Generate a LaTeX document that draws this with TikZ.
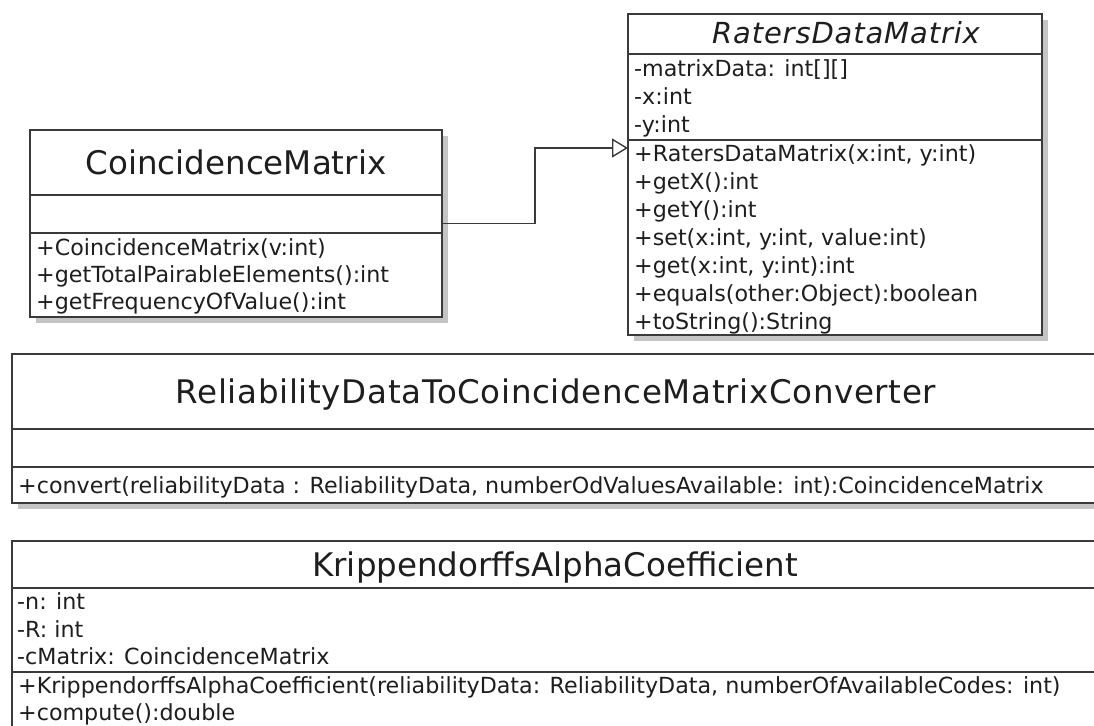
\documentclass[tikz,border=0pt]{standalone}
\usepackage{fontspec}
\setmainfont{DejaVu Sans}
\usetikzlibrary{arrows.meta}

\definecolor{umlline}{HTML}{3A3A3A}
\definecolor{umlshadow}{HTML}{C4C4C4}
\definecolor{umltext}{HTML}{1E1E1E}

\begin{document}
\begin{tikzpicture}[x=1pt, y=-1pt,
  classbox/.style={draw=umlline, line width=1.4pt, fill=white, inner sep=0pt,
                   outer sep=0pt, anchor=north west},
  shadowbox/.style={fill=umlshadow, draw=none},
  divider/.style={draw=umlline, line width=1.4pt},
  member/.style={inner sep=0pt, anchor=base west, text=umltext,
                 font=\fontsize{22.2}{27}\selectfont},
  classname/.style={inner sep=0pt, anchor=base, text=umltext,
                    font=\fontsize{32.5}{39}\selectfont},
  widename/.style={classname, font=\fontsize{32.5}{39}\selectfont\addfontfeature{LetterSpace=2}},
  abstractname/.style={classname, font=\itshape\fontsize{29}{35}\selectfont\addfontfeature{LetterSpace=3}},
  realize/.style={draw=umlline, line width=1.4pt,
                  -{Triangle[open, length=16pt, width=19pt, line width=1.4pt]}}
]
\clip (0,0) rectangle (1094,725);
\fill[white] (0,0) rectangle (1094,725);

% drop shadows
\fill[shadowbox] (36,136) rectangle (448,323);
\fill[shadowbox] (634,20) rectangle (1048,341);
\fill[shadowbox] (18,360) rectangle (1104,509);

% ---------- CoincidenceMatrix ----------
\node[classbox, minimum width=412pt, minimum height=187pt] (cm) at (30,130) {};
\draw[divider] (30,195) -- (442,195);
\draw[divider] (30,233) -- (442,233);
\node[classname] (cm-name) at (236,174) {CoincidenceMatrix};
\node[member] (cm-m1) at (36,255) {+CoincidenceMatrix(v:int)};
\node[member] (cm-m2) at (36,282) {+getTotalPairableElements():int};
\node[member] (cm-m3) at (36,309) {+getFrequencyOfValue():int};

% ---------- RatersDataMatrix (abstract) ----------
\node[classbox, minimum width=414pt, minimum height=321pt] (rdm) at (628,14) {};
\draw[divider] (628,54) -- (1042,54);
\draw[divider] (628,140) -- (1042,140);
\node[abstractname] (rdm-name) at (846,44) {RatersDataMatrix};
\node[member] (rdm-a1) at (634,76) {-matrixData: int[][]};
\node[member] (rdm-a2) at (634,104) {-x:int};
\node[member] (rdm-a3) at (634,132) {-y:int};
\node[member] (rdm-m1) at (634,161) {+RatersDataMatrix(x:int, y:int)};
\node[member] (rdm-m2) at (634,189) {+getX():int};
\node[member] (rdm-m3) at (634,217) {+getY():int};
\node[member] (rdm-m4) at (634,245) {+set(x:int, y:int, value:int)};
\node[member] (rdm-m5) at (634,273) {+get(x:int, y:int):int};
\node[member] (rdm-m6) at (634,301) {+equals(other:Object):boolean};
\node[member] (rdm-m7) at (634,329) {+toString():String};

% realization: CoincidenceMatrix -> RatersDataMatrix
\coordinate (rdm-in) at ([yshift=-134pt]rdm.north west);
\draw[realize] (cm.east) -- ++(93,0) |- (rdm-in);

% ---------- ReliabilityDataToCoincidenceMatrixConverter ----------
\node[classbox, minimum width=1086pt, minimum height=149pt] (conv) at (12,354) {};
\draw[divider] (12,429) -- (1098,429);
\draw[divider] (12,467) -- (1098,467);
\node[widename] (conv-name) at (556,403) {ReliabilityDataToCoincidenceMatrixConverter};
\node[member] (conv-m1) at (18,493)
  {+convert(reliabilityData : ReliabilityData, numberOdValuesAvailable: int):CoincidenceMatrix};

% ---------- KrippendorffsAlphaCoefficient ----------
\node[classbox, minimum width=1086pt, minimum height=200pt] (kac) at (12,541) {};
\draw[divider] (12,588) -- (1098,588);
\draw[divider] (12,672) -- (1098,672);
\node[classname] (kac-name) at (555,576) {KrippendorffsAlphaCoefficient};
\node[member] (kac-a1) at (17,609) {-n: int};
\node[member] (kac-a2) at (17,637) {-R: int};
\node[member] (kac-a3) at (17,664) {-cMatrix: CoincidenceMatrix};
\node[member] (kac-m1) at (18,693)
  {+KrippendorffsAlphaCoefficient(reliabilityData: ReliabilityData, numberOfAvailableCodes: int)};
\node[member] (kac-m2) at (18,720) {+compute():double};
\end{tikzpicture}
\end{document}
